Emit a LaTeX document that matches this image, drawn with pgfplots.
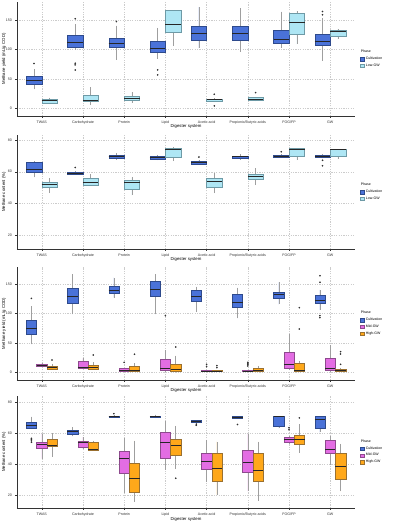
\documentclass[border=0pt]{standalone}
\usepackage{fontspec}
\setmainfont{Liberation Sans}
\usepackage{pgfplots}
\pgfplotsset{compat=1.18}
\usepgfplotslibrary{statistics}

\definecolor{cultF}{HTML}{4A72D8}
\definecolor{cultD}{HTML}{2E4A8C}
\definecolor{lowF}{HTML}{AEE6F4}
\definecolor{lowD}{HTML}{6E9AA6}
\definecolor{midF}{HTML}{E36DE3}
\definecolor{midD}{HTML}{8E4A8E}
\definecolor{highF}{HTML}{FFA81A}
\definecolor{highD}{HTML}{9A7030}

\pgfplotsset{
  panel/.style={
    scale only axis, width=338pt,
    xmin=0.4, xmax=8.6,
    xtick={1,...,8},
    xticklabels={TWAS,Carbohydrate,Protein,Lipid,Acetic acid,Propionic/Butyric acids,FOG/FP,GW},
    axis x line*=bottom, axis y line*=left,
    axis line style={-, draw=gray!40!black, line width=0.4pt},
    tick align=outside, major tick length=1.6pt,
    tick style={draw=gray!40!black, line width=0.3pt},
    grid=major,
    major grid style={gray!40, line width=0.3pt, dash pattern=on 1.2pt off 1.2pt},
    ticklabel style={font=\fontsize{3.6}{4}\selectfont, text=black!80},
    /pgf/number format/assume math mode=true,
    xlabel={Digester system},
    every axis x label/.style={at={(axis description cs:0.5,-0.09)}, anchor=center,
      font=\fontsize{4.3}{5}\selectfont},
    every axis y label/.style={at={(axis description cs:-0.0385,0.5)}, rotate=90, anchor=center,
      font=\fontsize{4.3}{5}\selectfont},
    boxplot/draw direction=y,
    boxplot/whisker extend=0,
    boxplot/every whisker/.style={draw=gray!75, line width=0.4pt},
    boxplot/every median/.style={draw=black!85, line width=0.9pt},
    boxplot/every box/.style={line width=0.4pt},
    legend style={at={(1.015,0.5)}, anchor=west, draw=none, fill=none,
      font=\fontsize{3.5}{4}\selectfont, row sep=-1.2pt, inner sep=0pt,
      cells={anchor=west}},
    legend image code/.code={\draw[#1, line width=0.3pt] (0pt,-1.7pt) rectangle (3.4pt,1.7pt);},
  },
  outl/.style={mark=*, mark size=0.6pt, mark options={draw=black!80, fill=black!80}},
  cult/.style={forget plot, fill=cultF, draw=cultD, outl},
  low/.style={forget plot, fill=lowF, draw=lowD, outl},
  mid/.style={forget plot, fill=midF, draw=midD, outl},
  high/.style={forget plot, fill=highF, draw=highD, outl},
  bp/.style n args={6}{boxplot prepared={draw position=#1, lower whisker=#2,
      lower quartile=#3, median=#4, upper quartile=#5, upper whisker=#6}},
}

\begin{document}
\begin{tikzpicture}
\path[use as bounding box, fill=white] (0,0) rectangle (393pt,521pt);

% ---------- Methane yield, cultivation vs low GW ----------
\begin{axis}[panel, at={(17pt,405pt)}, anchor=south west, height=114pt,
  ymin=-13.05, ymax=180.2, ytick={0,50,100,150},
  ylabel={Methane yield (mL/g COD)},
  boxplot/box extend=0.375]
\addplot[cult, bp={0.8125}{32}{40.8}{47.5}{53.8}{66}] coordinates {(0,76)};
\addplot[low,  bp={1.1875}{6.8}{8.5}{13}{14.7}{18}] coordinates {};
\addplot[cult, bp={1.8125}{99}{103}{112}{123.4}{142.6}] coordinates {(0,151.7) (0,76.4) (0,73.6) (0,65)};
\addplot[low,  bp={2.1875}{5}{12.5}{14}{22}{35.7}] coordinates {};
\addplot[cult, bp={2.8125}{82}{103}{109.2}{118.9}{140}] coordinates {(0,147)};
\addplot[low,  bp={3.1875}{8.5}{14.2}{17}{20.4}{27}] coordinates {};
\addplot[cult, bp={3.8125}{83.8}{95}{101.9}{113.8}{136.4}] coordinates {(0,65) (0,56.6)};
\addplot[low,  bp={4.1875}{105.8}{128.5}{141.5}{166.4}{166.4}] coordinates {};
\addplot[cult, bp={4.8125}{101.9}{114.9}{126.2}{138.7}{171.5}] coordinates {};
\addplot[low,  bp={5.1875}{10}{12.5}{14.2}{15.8}{17}] coordinates {(0,23.8) (0,4)};
\addplot[cult, bp={5.8125}{96.2}{116}{126.8}{138.7}{169.8}] coordinates {};
\addplot[low,  bp={6.1875}{11.9}{13.6}{15.8}{18.1}{19.5}] coordinates {(0,26.6)};
\addplot[cult, bp={6.8125}{103}{110.4}{117.2}{131.9}{164}] coordinates {};
\addplot[low,  bp={7.1875}{108.7}{125.7}{146}{161.3}{165}] coordinates {};
\addplot[cult, bp={7.8125}{81}{106.4}{113.2}{125.7}{152.8}] coordinates {(0,164) (0,158.5)};
\addplot[low,  bp={8.1875}{117}{122.8}{130.2}{132.4}{134.7}] coordinates {};
\addlegendimage{empty legend}\addlegendentry{\hspace*{-5pt}Phase}
\addlegendimage{fill=cultF, draw=cultD}\addlegendentry{Cultivation}
\addlegendimage{fill=lowF, draw=lowD}\addlegendentry{Low-GW}
\end{axis}

% ---------- Methane content, cultivation vs low GW ----------
\begin{axis}[panel, at={(17pt,272pt)}, anchor=south west, height=114pt,
  ymin=11.2, ymax=83.2, ytick={20,40,60,80},
  ylabel={Methane content (\%)},
  boxplot/box extend=0.375]
\addplot[cult, bp={0.8125}{56.4}{59.4}{61.7}{65.9}{66.7}] coordinates {};
\addplot[low,  bp={1.1875}{46.5}{50.1}{52}{53.7}{55.8}] coordinates {};
\addplot[cult, bp={1.8125}{58.1}{58.3}{59.2}{59.8}{60.2}] coordinates {(0,62.7)};
\addplot[low,  bp={2.1875}{51}{51.6}{53.3}{55.8}{58.3}] coordinates {};
\addplot[cult, bp={2.8125}{67.6}{68.6}{69.7}{70.7}{71.8}] coordinates {};
\addplot[low,  bp={3.1875}{45}{49}{53}{54.7}{56.4}] coordinates {};
\addplot[cult, bp={3.8125}{67.4}{68.2}{69}{69.7}{70.7}] coordinates {};
\addplot[low,  bp={4.1875}{66.7}{69}{73.9}{74.7}{75.4}] coordinates {};
\addplot[cult, bp={4.8125}{64.6}{65}{65.9}{66.7}{67.2}] coordinates {(0,69.3)};
\addplot[low,  bp={5.1875}{46.3}{50.5}{54.1}{55.8}{59}] coordinates {};
\addplot[cult, bp={5.8125}{67.6}{68.6}{69.5}{70.1}{70.9}] coordinates {};
\addplot[low,  bp={6.1875}{51.6}{55.2}{56.8}{58.3}{62.1}] coordinates {};
\addplot[cult, bp={6.8125}{69}{69}{69.7}{70.3}{71.2}] coordinates {(0,72.6)};
\addplot[low,  bp={7.1875}{67.4}{69.9}{74.3}{74.7}{74.7}] coordinates {};
\addplot[cult, bp={7.8125}{68.4}{69}{69.7}{70.5}{70.9}] coordinates {(0,67.2) (0,63.8)};
\addplot[low,  bp={8.1875}{67.8}{69.9}{73.9}{74.3}{74.3}] coordinates {};
\addlegendimage{empty legend}\addlegendentry{\hspace*{-5pt}Phase}
\addlegendimage{fill=cultF, draw=cultD}\addlegendentry{Cultivation}
\addlegendimage{fill=lowF, draw=lowD}\addlegendentry{Low-GW}
\end{axis}

% ---------- Methane yield, cultivation vs mid and high GW ----------
\begin{axis}[panel, at={(17pt,141pt)}, anchor=south west, height=113pt,
  ymin=-13.1, ymax=179.5, ytick={0,50,100,150},
  ylabel={Methane yield (mL/g COD)},
  boxplot/box extend=0.25]
\addplot[cult, bp={0.75}{47.7}{64.8}{75}{88.6}{113}] coordinates {(0,126)};
\addplot[mid,  bp={1}{9.1}{10.2}{12.5}{14.2}{15.9}] coordinates {};
\addplot[high, bp={1.25}{4}{5.1}{8}{9.7}{14.2}] coordinates {(0,21)};
\addplot[cult, bp={1.75}{98.8}{117.6}{129}{143}{167}] coordinates {};
\addplot[mid,  bp={2}{5.7}{6.8}{8.5}{19.3}{23.9}] coordinates {};
\addplot[high, bp={2.25}{4}{5.7}{8.5}{12.5}{17}] coordinates {(0,29.5)};
\addplot[cult, bp={2.75}{127.2}{134.6}{140.3}{146}{161.3}] coordinates {};
\addplot[mid,  bp={3}{1.1}{1.1}{4}{6.8}{8}] coordinates {(0,17)};
\addplot[high, bp={3.25}{1.1}{1.1}{3.4}{9.7}{15.3}] coordinates {(0,30.7)};
\addplot[cult, bp={3.75}{98.8}{129.5}{142}{155.6}{167}] coordinates {};
\addplot[mid,  bp={4}{2.3}{2.8}{6.8}{22.2}{38}] coordinates {(0,96.6)};
\addplot[high, bp={4.25}{1.1}{1.7}{5.1}{14.2}{28.4}] coordinates {(0,43.2)};
\addplot[cult, bp={4.75}{103.4}{120.4}{129}{140.3}{146}] coordinates {};
\addplot[mid,  bp={5}{1.1}{1.1}{2.3}{3.4}{3.4}] coordinates {(0,9.7) (0,13.6)};
\addplot[high, bp={5.25}{1.1}{1.1}{2.3}{3.4}{3.4}] coordinates {(0,8) (0,11.4)};
\addplot[cult, bp={5.75}{92}{110.2}{119.3}{132.9}{144.3}] coordinates {};
\addplot[mid,  bp={6}{1.1}{1.1}{2.3}{2.8}{2.8}] coordinates {(0,10.8) (0,13) (0,15.3) (0,17)};
\addplot[high, bp={6.25}{1.1}{1.1}{4}{6.8}{10.8}] coordinates {};
\addplot[cult, bp={6.75}{115.9}{126.1}{132.9}{136.3}{153.4}] coordinates {};
\addplot[mid,  bp={7}{4}{6.8}{14.2}{34}{65.3}] coordinates {};
\addplot[high, bp={7.25}{1.1}{1.1}{4}{15.3}{19.3}] coordinates {(0,73.8) (0,110.2)};
\addplot[cult, bp={7.75}{106}{117.6}{123.3}{131.8}{140.3}] coordinates {(0,164.7) (0,153.4) (0,96.6) (0,93.2)};
\addplot[mid,  bp={8}{1.1}{4}{6.8}{23.9}{46.6}] coordinates {};
\addplot[high, bp={8.25}{1.1}{1.1}{3.4}{5.7}{8}] coordinates {(0,35.2) (0,31.2) (0,13.6)};
\addlegendimage{empty legend}\addlegendentry{\hspace*{-5pt}Phase}
\addlegendimage{fill=cultF, draw=cultD}\addlegendentry{Cultivation}
\addlegendimage{fill=midF, draw=midD}\addlegendentry{Mid-GW}
\addlegendimage{fill=highF, draw=highD}\addlegendentry{High-GW}
\end{axis}

% ---------- Methane content, cultivation vs mid and high GW ----------
\begin{axis}[panel, at={(17pt,13pt)}, anchor=south west, height=112pt,
  ymin=11.9, ymax=83.75, ytick={20,40,60,80},
  ylabel={Methane content (\%)},
  every axis x label/.append style={at={(axis description cs:0.5,-0.1)}},
  boxplot/box extend=0.25]
\addplot[cult, bp={0.75}{62.5}{63.4}{65}{66.7}{70.5}] coordinates {(0,56.6) (0,55.8) (0,55) (0,54.1)};
\addplot[mid,  bp={1}{43.6}{50.3}{52.9}{54.1}{59.4}] coordinates {};
\addplot[high, bp={1.25}{44.7}{51.6}{52}{56.2}{60}] coordinates {};
\addplot[cult, bp={1.75}{57.9}{59.4}{60.8}{62.1}{63.6}] coordinates {};
\addplot[mid,  bp={2}{49.9}{50.8}{53.7}{54.5}{57.3}] coordinates {};
\addplot[high, bp={2.25}{48.5}{48.9}{49.3}{53.9}{55.2}] coordinates {};
\addplot[cult, bp={2.75}{70}{70.3}{70.7}{71.1}{71.8}] coordinates {(0,72.4)};
\addplot[mid,  bp={3}{21.6}{34.2}{43.6}{48.2}{56.6}] coordinates {};
\addplot[high, bp={3.25}{15.9}{22.2}{30.6}{40.9}{55.2}] coordinates {};
\addplot[cult, bp={3.75}{69.5}{70}{70.7}{71.1}{71.8}] coordinates {};
\addplot[mid,  bp={4}{36.3}{43.6}{53.7}{60.8}{67.8}] coordinates {};
\addplot[high, bp={4.25}{36.9}{45.7}{52}{55.8}{64.6}] coordinates {(0,31)};
\addplot[cult, bp={4.75}{67}{67.2}{67.6}{68}{68.3}] coordinates {(0,65.7) (0,65)};
\addplot[mid,  bp={5}{28.5}{36.9}{41.9}{47.2}{55.8}] coordinates {};
\addplot[high, bp={5.25}{20.5}{29.3}{37.3}{47.2}{54.5}] coordinates {};
\addplot[cult, bp={5.75}{69.3}{69.7}{70.1}{70.5}{70.9}] coordinates {(0,65.5)};
\addplot[mid,  bp={6}{22.6}{34.8}{40.9}{48.9}{59.4}] coordinates {};
\addplot[high, bp={6.25}{16.7}{29.3}{36.3}{46.8}{54.5}] coordinates {};
\addplot[cult, bp={6.75}{62.9}{64.6}{70.5}{70.5}{70.5}] coordinates {};
\addplot[mid,  bp={7}{53.3}{53.9}{55.8}{57.1}{57.9}] coordinates {(0,62.1) (0,63.4)};
\addplot[high, bp={7.25}{47.4}{53.1}{55.8}{58.7}{65.5}] coordinates {(0,69.7)};
\addplot[cult, bp={7.75}{60.4}{63.2}{68.8}{70.5}{70.5}] coordinates {};
\addplot[mid,  bp={8}{39.4}{47}{49.7}{55.2}{58.3}] coordinates {};
\addplot[high, bp={8.25}{22.6}{30.4}{38.4}{47.2}{53.1}] coordinates {};
\addlegendimage{empty legend}\addlegendentry{\hspace*{-5pt}Phase}
\addlegendimage{fill=cultF, draw=cultD}\addlegendentry{Cultivation}
\addlegendimage{fill=midF, draw=midD}\addlegendentry{Mid-GW}
\addlegendimage{fill=highF, draw=highD}\addlegendentry{High-GW}
\end{axis}
\end{tikzpicture}
\end{document}
